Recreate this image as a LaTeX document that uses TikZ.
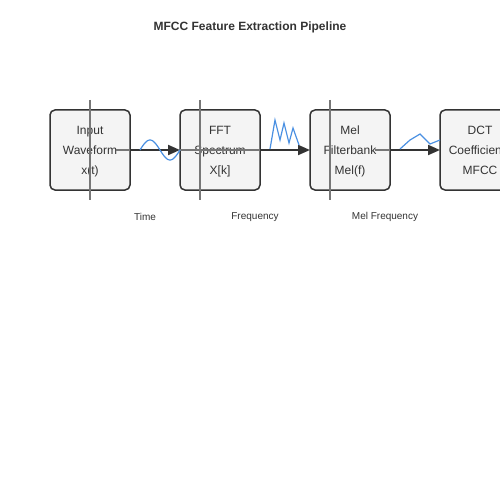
\documentclass[tikz,border=0pt]{standalone}
\usepackage{fontspec}
\setmainfont{Liberation Sans}
\usetikzlibrary{positioning,arrows.meta}
\definecolor{ink}{HTML}{333333}
\definecolor{boxfill}{HTML}{F4F4F4}
\definecolor{axisgray}{HTML}{777777}
\definecolor{wave}{HTML}{4A90E2}

\begin{document}
\begin{tikzpicture}[x=1pt,y=-1pt,>={Triangle[length=12pt,width=10pt]},
		block/.style={shape=rectangle,draw=ink,fill=boxfill,line width=1.5pt,
			rounded corners=5pt,minimum width=80pt,minimum height=80pt,outer sep=0pt,
			align=center,text=ink,font=\fontsize{12}{20}\selectfont,text depth=0pt},
		axislabel/.style={text=ink,font=\fontsize{10}{12}\selectfont}]
		\useasboundingbox (0,0) rectangle (500,500);
		% create the nodes.
		\node[text=ink,font=\bfseries\fontsize{12}{14}\selectfont] (title) at (250,27) {MFCC Feature Extraction Pipeline};
		\node[block] (input) at (90,150) {Input\\Waveform\\x(t)};
		\node[block] (fft) [right=50pt of input] {FFT\\Spectrum\\X[k]};
		\node[block] (mel) [right=50pt of fft] {Mel\\Filterbank\\Mel(f)};
		\node[block] (dct) [right=50pt of mel] {DCT\\Coefficients\\MFCC};
		\node[axislabel] (time) at (145,217) {Time};
		\node[axislabel] (freq) at (255,217) {Frequency};
		\node[axislabel] (melfreq) at (385,217) {Mel Frequency};

		% axes of the small plots
		\draw[axisgray,line width=1.2pt] (90,100) -- (90,200);
		\draw[axisgray,line width=1.2pt] (200,100) -- (200,200);
		\draw[axisgray,line width=1.2pt] (330,100) -- (330,200);
		\draw[axisgray,line width=1.2pt] (116,150) -- (130,150);
		\draw[axisgray,line width=1.2pt] (180,150) -- (260,150);
		\draw[axisgray,line width=1.2pt] (375,150) -- (390,150);

		% connect the nodes
		\draw[->,ink,line width=2pt] (input) -- (fft);
		\draw[->,ink,line width=2pt] (fft) -- (mel);
		\draw[->,ink,line width=2pt] (mel) -- (dct);

		% the signals
		\draw[wave,line width=1.2pt] plot[domain=140:180,samples=41,smooth] (\x,{150-10*sin(9*(\x-140))});
		\draw[wave,line width=1.2pt] (270,149) -- (275,120) -- (280,140) -- (284,123) -- (289,143) -- (293,128) -- (299,145);
		\draw[wave,line width=1.2pt] (400,149) -- (410,140) -- (420,134) -- (430,144) -- (440,140);
	\end{tikzpicture}
\end{document}
